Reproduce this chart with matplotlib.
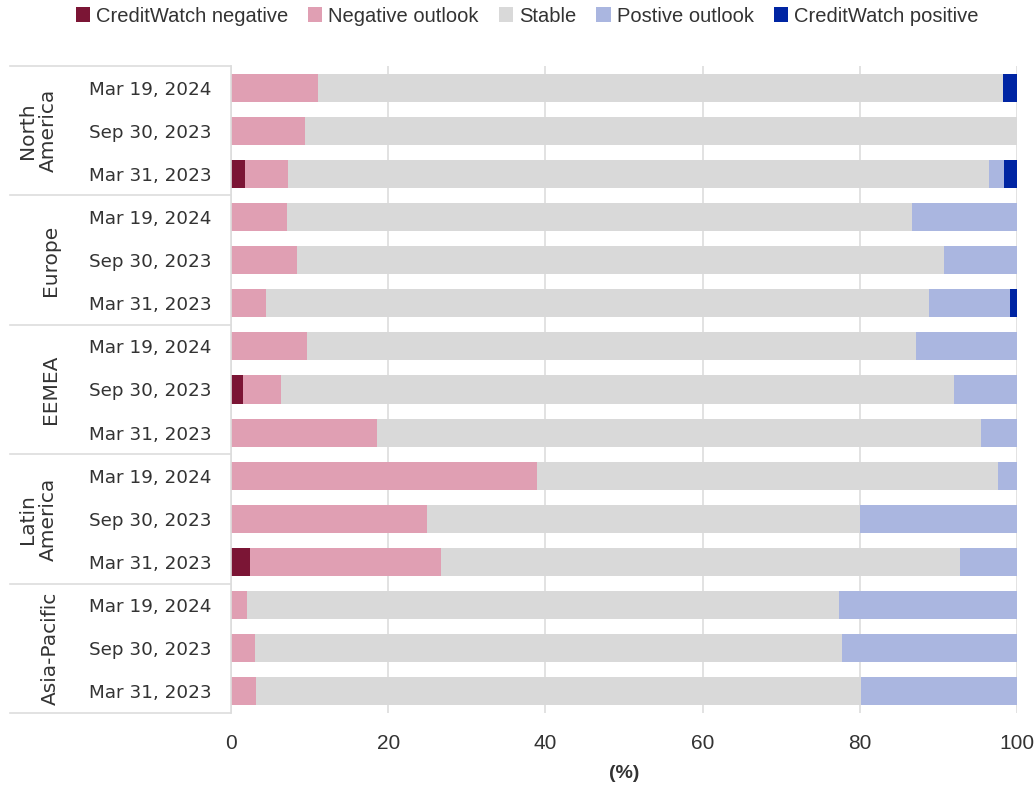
import matplotlib
matplotlib.use("Agg")
import matplotlib.pyplot as plt
import matplotlib.transforms as mtransforms
from matplotlib.patches import Patch
import numpy as np

# ---- data (top-to-bottom order) ----
regions = ["North\nAmerica", "Europe", "EEMEA", "Latin\nAmerica", "Asia-Pacific"]
dates = ["Mar 19, 2024", "Sep 30, 2023", "Mar 31, 2023"]
series_names = ["CreditWatch negative", "Negative outlook", "Stable",
                "Postive outlook", "CreditWatch positive"]

cw_negative = [0.0, 0.0, 1.8,
               0.0, 0.0, 0.0,
               0.0, 1.5, 0.0,
               0.0, 0.0, 2.4,
               0.0, 0.0, 0.0]
neg_outlook = [11.1, 9.4, 5.5,
               7.1, 8.4, 4.5,
               9.7, 4.8, 18.6,
               38.9, 24.9, 24.3,
               2.0, 3.1, 3.2]
stable = [87.1, 90.6, 89.2,
          79.5, 82.3, 84.3,
          77.4, 85.7, 76.8,
          58.7, 55.1, 66.0,
          75.4, 74.6, 77.0]
pos_outlook = [0.0, 0.0, 1.8,
               13.4, 9.3, 10.3,
               12.9, 8.0, 4.6,
               2.4, 20.0, 7.3,
               22.6, 22.3, 19.8]
cw_positive = [1.8, 0.0, 1.8,
               0.0, 0.0, 0.9,
               0.0, 0.0, 0.0,
               0.0, 0.0, 0.0,
               0.0, 0.0, 0.0]

colors = ["#7B1535", "#E09FB3", "#D9D9D9", "#AAB6E0", "#0025A3"]

W, H = 1035, 786
fig = plt.figure(figsize=(W / 100, H / 100), dpi=100)
ax = fig.add_axes([231 / W, 1 - 713 / H, 786 / W, 647 / H])

narrow = ["Liberation Sans", "DejaVu Sans"]
txt = "#333333"

n = len(regions) * len(dates)
ypos = np.arange(n)
left = np.zeros(n)
for vals, c in zip([cw_negative, neg_outlook, stable, pos_outlook, cw_positive], colors):
    v = np.array(vals)
    ax.barh(ypos, v, left=left, height=0.65, color=c, edgecolor="none", zorder=2)
    left += v

ax.set_xlim(0, 100)
ax.set_ylim(n - 0.5, -0.5)
ax.set_xticks([0, 20, 40, 60, 80, 100])
ax.set_yticks(ypos)
ax.set_yticklabels(dates * len(regions), fontsize=13.2, color=txt)
ax.tick_params(axis="y", length=0, pad=14)
ax.tick_params(axis="x", length=0, pad=15, labelsize=15, labelcolor=txt)
for lab in ax.get_xticklabels():
    lab.set_family(narrow)
ax.grid(axis="x", color="#DDDDDD", lw=1.2, zorder=0)
ax.set_axisbelow(True)
for s in ["top", "right", "bottom"]:
    ax.spines[s].set_visible(False)
ax.spines["left"].set_color("#DDDDDD")
ax.spines["left"].set_linewidth(1.2)

ax.set_xlabel("(%)", fontsize=14, fontweight="bold", color=txt, family=narrow, labelpad=9)

# group separators
trans = mtransforms.blended_transform_factory(ax.transAxes, ax.transData)
x0 = (10 - 231) / 786
for k in range(len(regions) + 1):
    yy = k * 3 - 0.5
    ax.plot([x0, 0], [yy, yy], transform=trans, color="#DDDDDD", lw=1.2, clip_on=False)

# group labels
for k, r in enumerate(regions):
    yc = k * 3 + 1
    xpix = 38 if "\n" in r else 50
    ax.text((xpix - 231) / 786, yc, r, transform=trans, rotation=90,
            ha="center", va="center", fontsize=14.5, color=txt, linespacing=1.1)

handles = [Patch(facecolor=c, edgecolor="none") for c in colors]
fig.legend(handles, series_names, loc="center", bbox_to_anchor=(527 / W, 1 - 16 / H),
           ncol=5, frameon=False, handlelength=0.7, handleheight=0.7,
           handletextpad=0.3, columnspacing=1.0,
           prop={"family": narrow, "size": 14.5}, labelcolor=txt)

fig.savefig("out.png", dpi=100)
